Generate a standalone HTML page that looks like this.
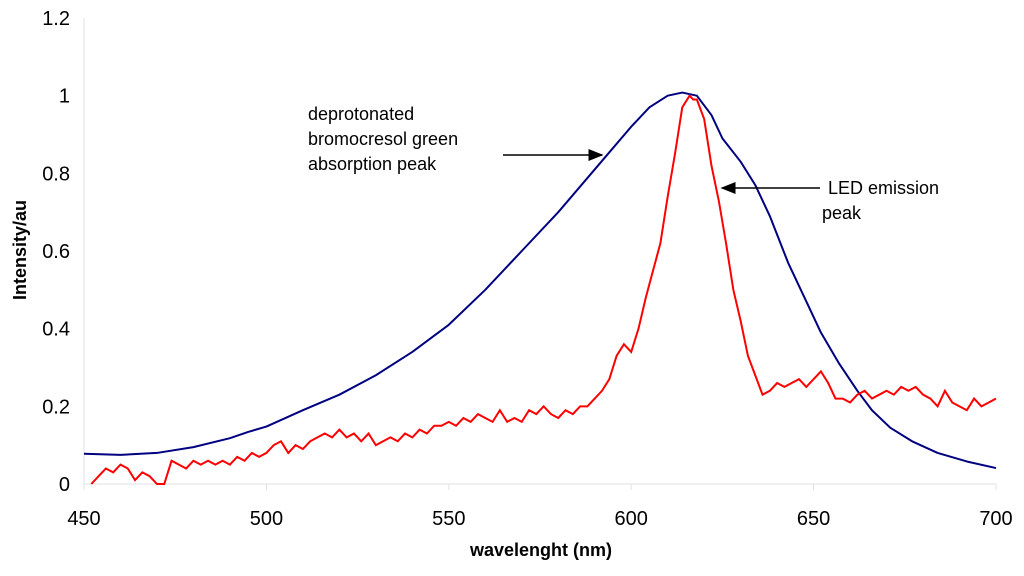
<!DOCTYPE html>
<html><head><meta charset="utf-8"><style>
body{margin:0;background:#fff;font-family:"Liberation Sans",Arial,sans-serif}
</style></head><body>
<svg width="1024" height="571" viewBox="0 0 1024 571" xmlns="http://www.w3.org/2000/svg">
<defs><marker id="ah" markerWidth="10" markerHeight="8" refX="9" refY="4" orient="auto"><path d="M0,0 L10,4 L0,8 z" fill="#000"/></marker></defs>
<g id="axes"></g>
<g id="plot"></g>
<text transform="translate(26,250) rotate(-90)" text-anchor="middle" font-size="18" font-weight="bold">Intensity/au</text>
<text x="541" y="556" text-anchor="middle" font-size="18" font-weight="bold">wavelenght (nm)</text>
<g font-size="18">
<text x="308" y="120">deprotonated</text>
<text x="308" y="145">bromocresol green</text>
<text x="308" y="170">absorption peak</text>
<line x1="503" y1="155" x2="602" y2="155" stroke="#000" stroke-width="1.5" marker-end="url(#ah)"/>
</g>
<g font-size="18">
<text x="828" y="194">LED emission</text>
<text x="822" y="219">peak</text>
<line x1="820" y1="188" x2="722" y2="188" stroke="#000" stroke-width="1.5" marker-end="url(#ah)"/>
</g>
</svg>
<script>
const xTicks=[450,500,550,600,650,700];
const yTicks=[0,0.2,0.4,0.6,0.8,1,1.2];
const yTickLabels=["0","0.2","0.4","0.6","0.8","1","1.2"];
const absWl=[450,460,470,480,490,495,500,510,520,530,540,550,560,570,580,590,600,605,610,614,618,622,625,630,634,638,643,648,652,657,662,666,671,677,684,692,700];
const absVal=[0.078,0.075,0.08,0.095,0.118,0.134,0.148,0.19,0.23,0.28,0.34,0.41,0.5,0.6,0.7,0.81,0.92,0.97,1.0,1.008,1.0,0.95,0.89,0.83,0.77,0.69,0.57,0.47,0.39,0.31,0.24,0.19,0.145,0.11,0.08,0.058,0.041];
const ledWl=[452,454,456,458,460,462,464,466,468,470,472,474,476,478,480,482,484,486,488,490,492,494,496,498,500,502,504,506,508,510,512,514,516,518,520,522,524,526,528,530,532,534,536,538,540,542,544,546,548,550,552,554,556,558,560,562,564,566,568,570,572,574,576,578,580,582,584,586,588,590,592,594,596,598,600,602,604,606,608,610,612,614,616,617,618,620,622,624,626,628,630,632,634,636,638,640,642,644,646,648,650,652,654,656,658,660,662,664,666,668,670,672,674,676,678,680,682,684,686,688,690,692,694,696,698,700];
const ledVal=[0,0.02,0.04,0.03,0.05,0.04,0.01,0.03,0.02,0,0,0.06,0.05,0.04,0.06,0.05,0.06,0.05,0.06,0.05,0.07,0.06,0.08,0.07,0.08,0.1,0.11,0.08,0.1,0.09,0.11,0.12,0.13,0.12,0.14,0.12,0.13,0.11,0.13,0.1,0.11,0.12,0.11,0.13,0.12,0.14,0.13,0.15,0.15,0.16,0.15,0.17,0.16,0.18,0.17,0.16,0.19,0.16,0.17,0.16,0.19,0.18,0.2,0.18,0.17,0.19,0.18,0.2,0.2,0.22,0.24,0.27,0.33,0.36,0.34,0.4,0.48,0.55,0.62,0.74,0.85,0.97,1.0,0.99,0.99,0.94,0.82,0.73,0.62,0.5,0.42,0.33,0.28,0.23,0.24,0.26,0.25,0.26,0.27,0.25,0.27,0.29,0.26,0.22,0.22,0.21,0.23,0.24,0.22,0.23,0.24,0.23,0.25,0.24,0.25,0.23,0.22,0.2,0.24,0.21,0.2,0.19,0.22,0.2,0.21,0.22];
const NS="http://www.w3.org/2000/svg";
const X=v=>84+(v-450)*(996-84)/250;
const Y=v=>484-v*(484-18)/1.2;
const axes=document.getElementById('axes'),plot=document.getElementById('plot');
function mk(tag,at,parent){const e=document.createElementNS(NS,tag);for(const k in at)e.setAttribute(k,at[k]);parent.appendChild(e);return e;}
const ax=mk('line',{x1:X(450),y1:Y(1.2),x2:X(450),y2:Y(0),stroke:'#e0e0e0'},axes);


const bx=mk('line',{x1:X(450),y1:Y(0),x2:X(700),y2:Y(0),stroke:'#e0e0e0'},axes);


xTicks.forEach(t=>{
 const l=mk('line',{x1:X(t),y1:Y(0),x2:X(t),y2:Y(0)+6,stroke:'#e0e0e0'},axes);
 
 
 const tx=mk('text',{x:X(t),y:525,'text-anchor':'middle','font-size':'20'},axes);tx.textContent=t;
 
 
});
yTicks.forEach((t,i)=>{
 const tx=mk('text',{x:70,y:Y(t)+7,'text-anchor':'end','font-size':'20'},axes);tx.textContent=yTickLabels[i];
 
 
});
const a=mk('polyline',{points:absWl.map((w,i)=>X(w)+','+Y(absVal[i])).join(' '),fill:'none',stroke:'#000080','stroke-width':2,'stroke-linejoin':'round'},plot);


const r=mk('polyline',{points:ledWl.map((w,i)=>X(w)+','+Y(ledVal[i])).join(' '),fill:'none',stroke:'#ff0000','stroke-width':2},plot);


</script>
</body></html>
